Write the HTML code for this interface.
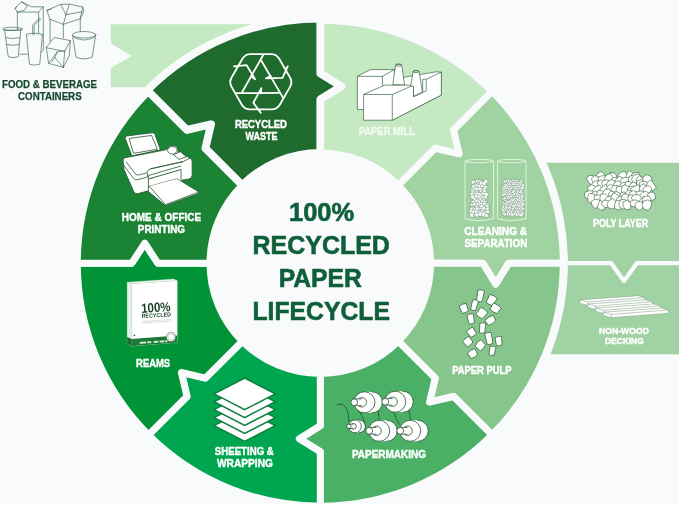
<!DOCTYPE html>
<html lang="en">
<head>
<meta charset="utf-8">
<title>100% Recycled Paper Lifecycle</title>
<style>
html,body{margin:0;padding:0;background:#f8fafb;}
body{width:679px;height:505px;overflow:hidden;}
svg{display:block;will-change:transform;}
</style>
</head>
<body>
<svg width="679" height="505" viewBox="0 0 679 505">
<rect width="679" height="505" fill="#f8fafb"/>
<path d="M111.7,24.2 L322,24.2 L322,87.2 L111.7,87.2 Q110.7,87.2 110.7,86.2 L110.7,70.5 Q110.9,67.5 114,66 L131.9,55.9 L114,45.5 Q110.9,44 110.7,41 L110.7,25.2 Q110.7,24.2 111.7,24.2 Z" fill="#c4e9c3"/>
<rect x="540" y="162.8" width="140" height="191.5" fill="#a1d2a3"/>
<path d="M540,263.2 L611.2,263.2 L624,280.9 L636.8,263.2 L680,263.2" fill="none" stroke="#f8fafb" stroke-width="4.3" stroke-linejoin="round"/>
<circle cx="320.3" cy="263.2" r="247.6" fill="#f8fafb"/>
<path d="M320.30,152.90 L320.30,99.40 L341.30,86.40 L320.30,73.40 L320.30,20.20 A243.00,243.00 0 0 1 492.13,91.37 L453.59,129.91 L459.25,153.95 L435.20,148.30 L398.29,185.21 A110.30,110.30 0 0 0 320.30,152.90 Z" fill="#c4e9c3" stroke="#f8fafb" stroke-width="7.0" stroke-linejoin="round"/>
<path d="M398.29,185.21 L435.20,148.30 L459.25,153.95 L453.59,129.91 L492.13,91.37 A243.00,243.00 0 0 1 563.30,263.20 L508.80,263.20 L495.80,284.20 L482.80,263.20 L430.60,263.20 A110.30,110.30 0 0 0 398.29,185.21 Z" fill="#a1d2a2" stroke="#f8fafb" stroke-width="7.0" stroke-linejoin="round"/>
<path d="M430.60,263.20 L482.80,263.20 L495.80,284.20 L508.80,263.20 L563.30,263.20 A243.00,243.00 0 0 1 492.13,435.03 L453.59,396.49 L429.55,402.15 L435.20,378.10 L398.29,341.19 A110.30,110.30 0 0 0 430.60,263.20 Z" fill="#86c68c" stroke="#f8fafb" stroke-width="7.0" stroke-linejoin="round"/>
<path d="M398.29,341.19 L435.20,378.10 L429.55,402.15 L453.59,396.49 L492.13,435.03 A243.00,243.00 0 0 1 320.30,506.20 L320.30,451.70 L299.30,438.70 L320.30,425.70 L320.30,373.50 A110.30,110.30 0 0 0 398.29,341.19 Z" fill="#4ab065" stroke="#f8fafb" stroke-width="7.0" stroke-linejoin="round"/>
<path d="M320.30,373.50 L320.30,425.70 L299.30,438.70 L320.30,451.70 L320.30,506.20 A243.00,243.00 0 0 1 148.47,435.03 L187.01,396.49 L181.35,372.45 L205.40,378.10 L242.31,341.19 A110.30,110.30 0 0 0 320.30,373.50 Z" fill="#00a550" stroke="#f8fafb" stroke-width="7.0" stroke-linejoin="round"/>
<path d="M242.31,341.19 L205.40,378.10 L181.35,372.45 L187.01,396.49 L148.47,435.03 A243.00,243.00 0 0 1 77.30,263.20 L131.80,263.20 L144.80,243.20 L157.80,263.20 L210.00,263.20 A110.30,110.30 0 0 0 242.31,341.19 Z" fill="#009437" stroke="#f8fafb" stroke-width="7.0" stroke-linejoin="round"/>
<path d="M210.00,263.20 L157.80,263.20 L144.80,243.20 L131.80,263.20 L77.30,263.20 A243.00,243.00 0 0 1 148.47,91.37 L187.01,129.91 L211.05,124.25 L205.40,148.30 L242.31,185.21 A110.30,110.30 0 0 0 210.00,263.20 Z" fill="#1a8334" stroke="#f8fafb" stroke-width="7.0" stroke-linejoin="round"/>
<path d="M242.31,185.21 L205.40,148.30 L211.05,124.25 L187.01,129.91 L147.27,90.17 A244.70,244.70 0 0 1 320.30,18.50 L320.30,73.40 L341.30,86.40 L320.30,99.40 L320.30,152.90 A110.30,110.30 0 0 0 242.31,185.21 Z" fill="#1f6b2e" stroke="#f8fafb" stroke-width="7.8" stroke-linejoin="round"/>
<g transform="translate(260.8,81.9) scale(0.1426)" fill="none" stroke="#fff" stroke-width="12.5" stroke-linejoin="round" stroke-linecap="round"><path d="M-129.0,-162.1 Q-110.0,-195.0 -72.0,-195.0 L72.0,-195.0 Q110.0,-195.0 129.0,-162.1 L204.9,-30.7 Q223.9,2.2 204.9,35.1 L132.9,159.9 Q113.9,192.8 75.9,192.8 L-75.9,192.8 Q-113.9,192.8 -132.9,159.9 L-204.9,35.1 Q-223.9,2.2 -204.9,-30.7 Z"/><polyline points="3.0,-150.0 155.5,110.6"/><polyline points="180.0,-95.0 189.0,-109.0 152.5,-28.0 36.0,-25.0 69.0,-41.0"/><polyline points="128.4,77.6 -173.5,79.4"/><polyline points="-7.7,203.4 -0.1,218.2 -52.0,146.1 3.7,43.7 1.0,80.3"/><polyline points="-131.4,72.4 18.0,-190.0"/><polyline points="-172.3,-108.4 -188.9,-109.2 -100.5,-118.1 -39.7,-18.7 -70.0,-39.3"/></g>
<g transform="translate(118,128) scale(0.15837)" fill="#fff" stroke="#24552f" stroke-width="5" stroke-linejoin="round"><path d="M188,372 L188,398 L300,490 L512,412 L512,405 L372,318 Z"/><path d="M196,366 L370,318 L510,404 L300,484 Z"/><path d="M190,325 L400,262 L404,338 L372,318 L192,368 Z" stroke="none"/><path d="M398,268 L398,330 L420,326 L420,262 Z" fill="#1a8334" stroke="none"/><path d="M32,205 Q30,192 45,188 L300,138 L318,128 Q330,108 352,110 L372,118 L380,150 L455,190 Q468,198 468,212 L468,300 Q466,318 448,322 L398,330 L398,262 L192,322 L192,396 L128,414 Q108,418 100,402 L38,262 Z"/><path d="M50,212 L110,290 Q120,300 135,296 L180,284 Q186,262 205,258 L412,212" fill="none"/><path d="M36,235 L98,318 Q108,330 125,326 L186,310 L186,284" fill="none"/><path d="M192,322 L192,300 L398,240" fill="none"/><path d="M205,258 L412,212 L455,190" fill="none"/><path d="M312,140 Q318,118 340,116 L365,122 Q378,130 372,150 L352,165 Q330,168 318,155 Z"/><path d="M350,168 L395,150 L432,182 L385,198 Z"/><path d="M58,50 L215,30 Q228,28 233,40 L268,138 L88,176 L46,68 Q42,53 58,50 Z"/><path d="M70,66 L212,47 L248,134 L98,160 Z" fill="none"/></g>
<g transform="translate(352,58) scale(0.14138)" fill="#fff" stroke="#24552f" stroke-width="4.5" stroke-linejoin="round"><path d="M38,130 L130,82 L300,82 L300,200 L215,245 L80,365 L38,365 Z"/><path d="M38,130 L215,130 L300,82 M215,130 L215,215" fill="none"/><path d="M372,135 L595,98 L632,100 L632,262 L285,440 L285,258 Z"/><path d="M288,190 L308,52 Q330,36 352,52 L372,190 Z"/><ellipse cx="330" cy="50" rx="22" ry="8" fill="none"/><path d="M82,258 L230,192 L435,192 L435,275 L500,245 L500,150 L525,150 L632,100 L632,262 L285,440 L82,440 Z"/><path d="M82,258 L285,258 L285,440 M285,258 L435,192" fill="none"/><path d="M525,150 L525,232 L500,245" fill="none"/><path d="M415,200 L432,97 Q453,82 475,97 L498,240 L435,270 L435,200 Z"/><ellipse cx="453" cy="96" rx="22" ry="8" fill="none"/></g>
<g transform="translate(458,152) scale(0.14643)"><path d="M48,62 L48,455 Q145.5,482 243,455 L243,62" fill="none" stroke="#e2f5df" stroke-width="6.5"/><ellipse cx="145.5" cy="62" rx="97.5" ry="11" fill="none" stroke="#e2f5df" stroke-width="6.5"/><path d="M270,62 L270,455 Q367.5,482 465,455 L465,62" fill="none" stroke="#e2f5df" stroke-width="6.5"/><ellipse cx="367.5" cy="62" rx="97.5" ry="11" fill="none" stroke="#e2f5df" stroke-width="6.5"/><g fill="#fff" stroke="#3f6f4a" stroke-width="2.6" stroke-linejoin="round"><polygon points="96.4,195.7 106.0,192.8 120.4,194.2 117.4,208.5 109.0,216.6 94.0,220.9 89.5,205.7"/><polygon points="121.3,193.2 132.7,186.3 146.1,194.2 143.8,209.3 133.8,219.9 119.0,216.4 117.6,203.1"/><polygon points="145.0,214.8 130.9,210.4 135.5,195.9 146.4,186.5 161.8,190.3 166.0,205.6 159.1,220.1"/><polygon points="146.7,212.7 148.8,196.1 163.4,194.0 173.6,197.1 178.0,207.3 175.6,222.6 160.2,220.3"/><polygon points="172.7,200.4 178.9,189.5 191.6,185.2 202.3,194.6 204.1,210.1 190.4,217.9 174.5,215.6"/><polygon points="133.0,215.9 136.3,230.1 124.4,237.2 110.4,241.1 103.5,227.5 109.5,215.8 120.4,213.3"/><polygon points="155.0,234.9 141.3,240.0 130.7,234.2 125.8,223.8 129.9,210.1 145.7,207.4 150.5,221.4"/><polygon points="154.3,202.0 169.3,201.3 177.0,216.3 166.6,228.3 152.2,235.2 144.5,221.6 146.6,210.4"/><polygon points="181.8,229.7 168.1,229.7 164.5,217.1 168.9,207.5 179.2,197.0 188.9,208.3 195.5,222.3"/><polygon points="121.2,233.2 119.6,246.5 109.2,256.3 97.6,248.8 92.8,238.0 95.4,222.7 111.2,223.9"/><polygon points="112.5,241.2 115.9,228.9 121.4,217.1 135.8,219.0 138.2,231.9 138.0,245.1 124.4,248.1"/><polygon points="143.0,219.3 154.5,227.1 159.5,235.8 159.1,249.2 144.3,255.7 136.0,242.7 133.8,230.4"/><polygon points="157.8,246.5 152.5,235.4 157.2,222.7 170.6,222.6 180.3,230.3 182.8,244.5 169.0,247.2"/><polygon points="181.9,252.4 169.2,245.5 175.7,232.6 185.8,227.3 197.7,230.0 203.8,242.8 192.7,250.6"/><polygon points="107.1,244.6 113.5,254.4 110.1,267.7 95.3,273.1 85.8,261.3 87.4,249.0 96.5,242.7"/><polygon points="122.7,234.7 128.5,248.1 127.7,259.6 118.0,270.3 104.2,263.8 98.2,249.7 108.9,239.9"/><polygon points="136.0,240.0 145.4,247.6 145.4,260.2 134.9,267.8 122.5,264.2 113.0,252.2 124.9,242.9"/><polygon points="165.5,246.0 165.9,261.7 161.0,276.5 144.1,277.7 138.5,263.6 136.3,249.8 149.5,241.1"/><polygon points="174.2,269.2 165.6,260.9 167.1,250.1 174.3,239.4 186.4,244.8 196.0,255.8 184.7,264.6"/><polygon points="107.7,287.3 94.4,290.7 85.9,279.2 89.1,266.3 100.3,255.6 113.6,264.2 115.1,277.6"/><polygon points="105.6,278.8 113.1,266.4 124.6,263.3 136.7,267.3 141.1,281.7 128.1,288.1 114.4,291.9"/><polygon points="155.2,265.6 166.6,272.1 164.8,287.5 150.1,287.3 139.5,284.0 137.0,272.5 143.5,261.3"/><polygon points="167.1,261.3 175.4,266.6 176.6,277.0 168.7,284.1 158.4,282.0 145.5,273.5 152.7,258.4"/><polygon points="176.3,285.4 168.1,276.3 168.3,262.6 181.3,256.3 192.8,263.3 194.5,275.0 188.4,285.1"/><polygon points="109.4,294.9 100.6,303.1 87.2,301.2 80.1,287.8 89.7,277.0 103.2,271.2 113.6,282.4"/><polygon points="97.9,289.2 105.7,277.3 118.7,271.8 128.9,281.8 127.5,294.2 119.3,304.1 104.9,302.5"/><polygon points="114.8,297.8 114.0,281.1 128.2,275.2 143.3,274.1 149.9,288.9 140.3,299.7 128.6,304.2"/><polygon points="142.2,277.0 158.4,276.0 168.4,287.6 167.1,302.6 153.9,309.2 143.6,301.6 136.0,291.2"/><polygon points="172.8,275.0 181.5,280.4 182.3,290.9 176.6,304.5 163.8,297.0 159.7,287.3 158.4,272.8"/><polygon points="183.6,277.0 200.1,275.5 208.0,289.3 206.8,304.3 192.6,305.0 178.6,305.1 176.8,290.5"/><polygon points="84.6,298.4 98.0,292.8 109.1,295.3 115.0,305.0 112.6,318.1 98.5,323.2 88.7,312.6"/><polygon points="115.9,318.4 112.8,306.9 114.4,294.6 128.2,286.9 137.7,299.3 141.0,313.4 128.0,318.5"/><polygon points="140.6,296.0 154.2,295.8 164.2,305.7 163.2,321.4 148.3,322.5 138.7,317.8 130.5,306.6"/><polygon points="153.8,313.7 159.1,301.0 168.3,294.1 179.1,298.2 186.5,309.0 177.9,319.2 166.1,320.2"/><polygon points="183.0,328.6 174.2,317.5 171.6,302.8 185.3,295.8 197.0,301.9 201.0,312.8 194.4,321.3"/><polygon points="126.6,343.2 110.7,342.6 99.3,334.6 100.4,320.8 110.2,309.4 125.8,313.2 130.3,327.6"/><polygon points="144.9,315.4 153.5,326.9 148.2,342.3 132.5,342.0 123.9,332.8 123.8,321.3 131.8,310.0"/><polygon points="165.8,318.8 170.6,329.1 166.4,339.7 155.2,342.0 142.3,337.3 140.7,321.6 153.1,310.9"/><polygon points="167.8,342.2 156.6,333.2 163.8,321.5 172.9,316.5 187.4,316.2 187.1,330.8 180.4,341.0"/><polygon points="117.2,339.0 116.2,352.3 103.8,355.3 93.0,352.2 86.3,340.2 97.2,332.4 110.3,325.5"/><polygon points="143.6,332.9 145.7,347.2 132.7,355.8 120.7,348.3 113.0,336.9 120.6,324.1 135.5,320.7"/><polygon points="160.3,340.6 156.3,354.4 143.9,356.9 131.7,354.7 129.6,341.9 135.7,329.1 150.8,329.1"/><polygon points="156.4,325.8 169.7,326.6 183.9,331.0 181.8,346.6 169.2,351.0 154.3,354.0 154.2,338.8"/><polygon points="171.1,335.2 183.3,327.5 195.6,334.2 198.1,346.6 190.6,355.5 179.9,355.3 167.5,349.4"/><polygon points="97.0,372.7 82.5,368.5 87.4,354.5 93.0,343.5 105.4,346.8 116.2,355.9 108.7,368.2"/><polygon points="96.9,354.0 108.6,345.5 123.0,342.1 126.3,356.3 124.6,367.5 113.9,370.7 104.5,365.9"/><polygon points="143.9,373.7 131.8,375.0 121.4,365.1 124.9,349.9 139.5,344.1 152.0,352.1 150.8,365.1"/><polygon points="139.0,353.8 148.7,345.2 160.2,344.2 172.4,351.6 164.3,363.2 155.9,374.8 140.7,369.2"/><polygon points="165.0,353.2 174.8,342.6 190.9,341.6 197.6,356.4 190.4,368.1 178.5,377.1 167.5,366.8"/><polygon points="215.0,362.1 207.4,375.3 193.3,377.0 182.7,368.5 183.4,355.0 194.3,349.2 207.1,349.6"/><polygon points="116.3,373.8 124.4,385.5 114.0,396.6 101.7,392.1 92.7,384.9 96.2,373.4 106.6,369.7"/><polygon points="118.0,398.2 109.5,385.0 116.8,373.5 126.6,362.5 139.4,371.1 145.2,385.8 133.8,397.1"/><polygon points="155.1,357.2 166.2,369.5 161.0,383.7 150.1,393.2 137.3,386.2 136.3,373.9 142.4,365.5"/><polygon points="170.1,387.2 156.0,390.4 146.7,379.3 149.2,366.1 159.9,357.2 171.6,364.2 177.0,375.7"/><polygon points="196.7,393.3 180.8,391.7 174.5,379.1 177.4,366.9 188.8,360.2 201.6,365.9 201.4,379.1"/><polygon points="203.6,361.9 214.6,367.2 212.8,379.5 204.2,386.7 193.3,384.2 186.3,374.4 192.9,364.3"/><polygon points="98.9,404.0 86.9,401.4 80.4,393.8 78.8,381.9 90.3,375.7 104.1,378.8 102.8,392.3"/><polygon points="134.5,396.6 121.4,404.8 110.4,404.5 100.3,397.6 104.7,386.1 114.1,376.7 125.6,383.9"/><polygon points="130.3,376.4 144.7,376.7 147.5,391.2 143.1,406.0 128.1,403.1 119.7,394.7 120.6,383.1"/><polygon points="152.4,405.7 142.0,397.0 145.7,381.3 161.5,379.5 168.9,390.0 169.8,399.8 162.7,407.1"/><polygon points="188.7,395.4 179.0,407.8 165.8,400.7 153.1,391.9 161.8,378.9 174.8,371.6 189.0,379.5"/><polygon points="194.8,405.3 181.9,396.1 190.3,383.3 198.9,376.0 213.7,376.6 212.5,391.2 208.1,402.2"/><polygon points="89.1,390.9 104.0,396.0 106.2,411.1 99.8,425.4 84.9,421.9 76.1,412.8 79.4,401.0"/><polygon points="107.3,424.2 93.9,420.8 93.2,406.0 103.2,395.1 116.7,399.3 124.2,410.0 117.6,420.6"/><polygon points="110.6,410.7 114.9,396.1 128.3,395.0 138.6,398.9 146.2,411.4 135.2,422.3 119.6,424.0"/><polygon points="163.8,400.6 163.4,414.8 155.7,424.5 144.3,421.8 135.3,414.2 134.7,398.7 150.0,399.2"/><polygon points="181.5,416.1 168.9,421.0 158.9,416.5 154.2,407.2 157.0,394.1 171.3,392.2 177.1,403.6"/><polygon points="186.3,432.3 173.6,427.8 165.2,415.8 173.5,403.2 188.0,398.9 197.9,410.1 194.7,422.5"/><polygon points="208.3,396.7 214.0,405.3 217.9,420.2 202.5,420.5 187.6,419.1 191.2,404.7 196.5,393.7"/><polygon points="80.6,421.3 94.1,414.6 108.6,421.5 106.9,436.4 99.6,447.7 86.0,445.8 81.2,434.6"/><polygon points="124.5,418.2 134.7,425.9 131.7,439.1 120.1,447.7 110.4,438.0 105.3,427.6 112.0,416.5"/><polygon points="130.3,414.9 143.9,418.0 148.1,431.9 138.5,440.9 126.8,443.1 112.8,436.0 119.9,422.0"/><polygon points="157.9,437.4 142.9,439.9 137.7,424.7 143.9,410.0 160.2,405.8 170.4,418.2 172.6,433.8"/><polygon points="194.5,422.2 192.8,438.9 178.0,443.8 163.5,441.0 161.7,426.6 165.9,411.4 182.9,410.2"/><polygon points="198.7,444.6 185.7,449.1 180.4,436.1 182.0,423.3 194.5,416.7 203.2,426.7 211.1,438.1"/></g><g fill="#fff" stroke="#3f6f4a" stroke-width="2.3" stroke-linejoin="round"><polygon points="318.8,187.0 326.1,195.6 331.1,203.2 327.0,214.2 315.0,213.2 306.0,205.5 312.3,196.2"/><polygon points="321.0,192.7 329.5,188.2 337.5,187.4 342.8,194.2 343.6,205.6 332.1,209.5 325.1,201.6"/><polygon points="344.0,189.0 351.3,186.8 362.4,187.1 360.2,198.0 354.5,204.3 343.5,208.2 336.8,197.5"/><polygon points="349.9,198.5 358.3,192.7 369.0,188.5 375.1,199.0 373.7,211.0 362.1,215.9 354.1,207.9"/><polygon points="383.8,202.4 375.9,205.5 367.2,200.6 370.9,191.6 375.8,182.8 385.2,187.2 388.9,195.6"/><polygon points="392.8,208.5 384.9,201.2 390.4,192.6 396.9,183.0 404.0,192.3 410.6,200.3 404.0,210.2"/><polygon points="398.6,209.3 398.3,199.8 401.7,193.1 409.4,191.0 420.3,194.6 415.3,204.9 409.0,213.4"/><polygon points="423.3,210.3 417.5,202.4 420.1,191.6 430.6,192.4 440.8,194.7 442.1,206.3 433.6,214.8"/><polygon points="318.4,227.0 314.2,216.0 318.7,207.3 327.3,204.3 334.2,209.7 334.5,217.7 329.2,223.6"/><polygon points="346.8,222.7 337.2,229.4 330.9,219.2 332.9,209.4 341.1,205.4 351.0,206.7 356.0,216.9"/><polygon points="369.5,215.8 358.6,219.0 349.6,220.7 342.0,212.3 349.4,204.2 357.6,197.8 368.4,203.2"/><polygon points="381.6,220.7 372.8,223.1 361.9,222.5 362.7,211.5 367.8,203.5 379.2,200.2 386.4,210.5"/><polygon points="377.8,212.1 383.1,202.7 392.5,200.9 400.5,205.6 399.7,214.5 394.2,221.5 382.5,223.5"/><polygon points="395.7,212.5 400.7,205.5 408.5,202.5 418.5,206.5 419.1,218.5 408.8,223.0 397.9,223.1"/><polygon points="413.5,201.5 424.1,202.9 432.8,208.9 429.0,218.6 421.5,224.5 410.7,222.3 407.5,211.3"/><polygon points="424.9,205.1 434.4,206.8 443.2,210.2 441.0,219.7 434.5,227.6 424.7,223.6 418.4,214.4"/><polygon points="311.1,238.8 305.2,228.2 310.8,217.8 322.0,212.9 332.3,220.5 330.2,232.1 322.5,239.0"/><polygon points="341.1,223.1 341.8,233.8 332.7,240.5 321.6,237.5 320.9,227.1 322.5,216.6 333.8,215.8"/><polygon points="340.1,214.9 351.1,211.8 360.9,217.2 357.9,227.1 353.0,233.3 343.9,234.0 337.2,225.9"/><polygon points="355.9,220.1 363.5,215.0 370.4,221.4 370.0,229.6 364.6,235.3 355.9,235.1 352.3,227.2"/><polygon points="366.5,223.7 367.4,213.6 377.2,209.1 384.9,215.2 391.1,224.6 380.7,229.0 372.3,231.3"/><polygon points="403.7,233.5 392.7,235.1 386.3,229.3 381.3,220.9 389.8,216.0 399.0,213.7 403.8,222.4"/><polygon points="415.8,218.4 424.5,225.2 421.2,236.2 411.4,239.4 403.9,234.5 399.0,226.0 405.6,217.7"/><polygon points="421.2,221.9 429.6,214.3 436.2,223.4 438.4,230.7 434.7,239.6 424.1,239.8 420.4,230.6"/><polygon points="434.5,235.9 432.7,226.9 437.0,219.2 447.5,214.0 452.8,224.4 455.0,235.9 444.1,242.3"/><polygon points="322.1,235.2 318.5,244.4 309.4,247.0 298.0,244.7 299.5,232.9 307.0,226.9 316.5,226.8"/><polygon points="312.6,243.0 310.7,232.4 320.5,225.7 328.2,233.3 334.2,240.5 327.9,247.9 317.8,253.2"/><polygon points="341.9,245.8 330.3,244.4 333.2,233.1 338.8,224.8 349.1,226.7 355.5,235.0 351.7,245.2"/><polygon points="358.8,225.1 367.9,228.7 368.3,238.5 362.0,245.1 352.3,245.9 346.8,237.3 350.1,228.3"/><polygon points="383.5,241.4 378.6,249.5 367.3,252.1 359.7,242.3 364.3,231.6 373.7,230.7 384.3,230.8"/><polygon points="383.4,226.9 393.5,229.7 401.1,238.5 393.9,247.3 384.7,249.8 374.3,245.6 377.8,235.2"/><polygon points="413.9,246.6 404.5,253.6 394.5,250.0 390.9,241.4 392.4,230.7 403.9,226.9 409.4,236.7"/><polygon points="407.5,239.0 412.1,231.6 420.6,226.8 430.4,232.7 426.1,242.5 420.4,248.5 409.6,249.8"/><polygon points="449.0,241.8 443.3,252.7 430.4,253.6 423.5,243.4 428.9,234.7 435.1,225.8 443.3,233.1"/><polygon points="299.8,263.1 295.0,252.8 292.7,243.3 301.6,238.2 309.9,242.0 316.1,249.6 308.8,256.1"/><polygon points="322.4,254.8 317.1,262.9 306.1,261.4 300.3,251.0 308.7,243.7 317.0,240.0 323.9,246.5"/><polygon points="343.8,247.7 341.4,256.1 335.9,264.7 327.5,258.8 321.2,251.1 327.0,242.3 337.8,238.0"/><polygon points="347.9,264.9 340.6,258.5 336.2,248.8 344.7,241.8 353.6,244.9 358.8,251.5 356.8,260.3"/><polygon points="362.9,237.1 371.4,242.4 378.6,249.3 371.5,256.4 363.9,258.5 354.8,254.9 356.8,245.2"/><polygon points="376.4,264.0 374.0,253.6 372.2,243.5 382.5,243.0 389.8,246.0 396.7,255.2 387.9,263.5"/><polygon points="405.4,246.7 403.2,258.1 392.4,258.3 382.7,256.3 382.5,246.1 389.0,239.8 397.9,239.7"/><polygon points="404.4,256.9 397.7,248.3 405.4,239.6 416.8,238.2 422.2,247.8 422.7,259.0 411.9,262.6"/><polygon points="426.0,241.5 433.4,246.4 435.2,253.9 431.5,261.0 423.5,260.5 413.0,256.6 417.2,245.9"/><polygon points="429.5,250.7 434.0,239.9 443.9,236.8 452.7,241.2 452.3,250.4 447.3,256.7 439.1,256.4"/><polygon points="315.6,258.1 318.8,266.0 314.0,273.4 305.4,273.4 299.0,267.6 300.5,259.0 307.8,253.0"/><polygon points="311.7,279.4 308.7,267.8 314.4,258.1 325.0,257.7 335.2,263.3 329.6,273.3 323.6,281.4"/><polygon points="337.9,257.4 345.9,259.8 347.7,267.6 344.6,275.1 336.4,275.3 328.8,270.6 326.4,259.1"/><polygon points="345.1,266.0 345.0,255.5 355.5,250.8 362.7,258.2 364.9,266.4 360.5,275.7 348.6,277.0"/><polygon points="381.2,263.6 379.4,270.8 372.0,278.4 363.8,271.2 364.6,262.4 368.4,253.7 380.2,251.9"/><polygon points="394.8,269.2 388.6,278.5 378.9,272.3 373.0,262.2 382.9,256.7 391.0,254.9 395.7,261.6"/><polygon points="401.6,273.1 393.6,268.2 393.5,259.8 398.5,254.1 408.8,248.9 411.4,260.2 410.9,269.6"/><polygon points="426.5,271.0 418.8,274.7 409.3,274.4 403.1,264.5 410.6,255.4 421.7,252.3 426.7,262.1"/><polygon points="417.9,266.8 422.5,257.8 431.7,253.3 441.4,259.0 443.5,270.9 433.2,275.7 423.7,275.2"/><polygon points="318.7,271.5 323.3,278.8 321.4,286.5 314.5,291.0 307.4,286.7 303.3,278.7 308.8,270.1"/><polygon points="328.3,267.2 336.4,267.4 341.3,274.6 338.5,283.4 329.8,284.5 321.4,281.2 321.2,271.8"/><polygon points="360.5,271.6 363.5,282.6 355.6,290.4 345.4,289.5 337.0,282.2 340.6,271.2 350.7,264.6"/><polygon points="364.3,294.1 356.5,286.3 357.0,277.4 362.8,272.1 370.8,272.4 375.8,279.3 374.9,289.5"/><polygon points="378.9,263.5 385.0,270.8 386.2,278.2 381.1,284.2 372.4,284.8 363.9,277.5 367.2,265.5"/><polygon points="386.1,281.5 386.3,272.2 394.0,268.6 403.5,267.2 409.7,276.8 404.1,287.1 393.9,285.6"/><polygon points="407.8,265.4 419.5,264.7 424.4,275.9 416.7,283.3 408.7,286.7 397.9,283.0 400.3,271.7"/><polygon points="427.1,264.0 435.5,272.1 439.5,283.3 429.6,290.1 420.7,286.2 411.8,280.1 417.6,270.6"/><polygon points="450.0,285.1 443.2,293.0 432.1,295.5 427.4,285.3 430.2,276.6 437.8,272.4 445.5,276.4"/><polygon points="310.3,281.3 318.6,284.6 320.0,293.6 316.6,304.7 304.1,303.8 296.6,294.3 300.5,283.5"/><polygon points="330.2,279.5 333.0,288.2 331.5,296.0 323.9,298.7 313.7,297.2 310.7,285.6 320.8,280.6"/><polygon points="337.3,278.2 348.8,279.9 356.5,288.3 351.4,298.0 342.8,299.5 333.7,298.1 331.2,288.0"/><polygon points="350.3,299.4 343.7,294.1 345.1,285.0 353.5,280.0 363.8,283.1 364.6,293.7 360.6,304.8"/><polygon points="369.7,283.7 380.3,285.4 387.7,293.8 382.0,303.1 373.1,308.0 363.5,302.8 362.9,292.0"/><polygon points="394.8,294.7 387.1,301.3 376.2,298.7 372.5,287.8 379.9,280.4 390.2,275.3 395.2,285.6"/><polygon points="404.7,276.3 416.1,280.1 418.3,292.5 409.8,300.8 398.1,301.5 391.4,291.8 394.9,281.1"/><polygon points="423.9,286.4 430.4,296.1 421.0,303.4 411.0,302.3 407.8,294.3 407.5,285.5 416.2,283.0"/><polygon points="445.4,288.8 445.3,299.0 438.0,304.1 428.1,306.5 423.0,296.9 425.6,286.3 436.1,284.7"/><polygon points="324.7,319.9 313.5,321.5 309.0,311.8 311.2,304.0 317.6,296.9 328.7,299.6 332.5,311.1"/><polygon points="324.2,310.6 321.7,299.3 332.2,295.2 341.0,297.1 347.2,305.0 344.2,316.6 332.8,314.7"/><polygon points="333.4,298.2 342.2,293.7 350.4,295.0 357.2,302.2 353.3,312.3 342.7,315.7 333.3,309.3"/><polygon points="368.0,293.1 371.0,304.3 370.8,315.3 359.6,318.4 348.6,313.9 351.1,302.8 355.9,293.6"/><polygon points="389.9,311.4 382.5,315.1 375.3,311.6 372.9,304.0 376.3,294.7 385.8,297.4 395.1,302.2"/><polygon points="401.1,296.0 410.5,303.5 409.3,316.1 398.3,320.8 386.4,318.8 387.8,307.3 392.0,300.7"/><polygon points="399.1,311.7 394.3,302.2 400.0,292.4 410.0,295.1 417.5,299.9 417.3,309.9 408.4,314.4"/><polygon points="414.0,315.8 411.4,305.4 415.1,294.2 427.8,292.8 431.4,303.7 434.4,313.7 424.6,319.7"/><polygon points="429.3,304.3 430.3,293.7 441.2,288.5 449.0,296.9 449.7,306.1 444.0,313.9 433.2,314.1"/><polygon points="309.0,330.1 299.0,325.2 301.7,314.2 310.6,311.3 319.5,311.7 321.9,320.6 319.3,330.4"/><polygon points="331.5,324.1 323.0,332.5 313.1,325.7 311.1,315.9 314.7,304.9 325.3,309.2 332.2,314.5"/><polygon points="344.2,304.8 350.3,310.9 352.7,318.7 347.1,326.3 337.5,324.9 331.4,317.0 336.9,309.4"/><polygon points="343.3,327.1 346.4,318.5 352.7,312.9 364.2,312.4 367.0,324.2 360.6,332.8 351.4,331.4"/><polygon points="359.6,326.5 358.2,314.8 368.6,309.1 379.1,312.0 379.6,321.8 376.0,328.4 367.4,334.5"/><polygon points="393.2,309.4 397.3,320.1 398.1,331.9 386.3,335.7 375.2,330.9 377.5,320.0 381.0,309.9"/><polygon points="412.0,322.6 409.5,331.5 400.3,333.0 392.0,328.4 392.7,318.9 398.8,310.7 407.6,315.6"/><polygon points="425.4,323.9 418.7,333.0 406.6,330.0 406.0,318.9 410.5,312.3 419.0,305.6 429.1,312.8"/><polygon points="435.7,331.0 423.9,326.6 426.0,315.4 429.6,308.3 438.5,306.0 444.2,313.5 445.6,324.0"/><polygon points="328.9,339.3 322.5,347.0 313.5,342.1 310.4,333.2 315.1,324.6 325.3,322.9 335.1,329.6"/><polygon points="330.0,345.3 320.0,340.8 322.1,330.6 326.8,322.6 337.6,322.1 339.4,332.2 340.8,342.6"/><polygon points="337.4,324.2 348.0,324.1 357.2,325.8 356.3,335.0 352.4,342.8 343.1,342.4 339.5,334.6"/><polygon points="354.2,320.5 365.6,322.1 373.5,328.1 373.8,339.0 364.6,346.9 352.5,343.2 347.6,331.4"/><polygon points="386.1,326.5 388.1,335.4 380.7,343.2 370.4,339.4 367.0,330.1 369.1,318.8 380.5,320.2"/><polygon points="402.3,343.6 393.2,346.8 384.6,341.0 386.5,331.4 392.5,324.4 400.7,328.4 404.4,335.1"/><polygon points="419.2,328.0 417.2,336.6 409.0,343.7 398.7,338.2 399.4,327.7 403.5,317.5 414.9,318.9"/><polygon points="425.4,344.0 414.3,343.0 414.1,331.6 418.6,321.1 429.0,325.1 434.1,331.5 432.1,339.1"/><polygon points="452.0,333.9 451.3,344.6 440.1,344.5 430.3,338.7 435.8,329.1 441.4,321.2 449.5,326.5"/><polygon points="303.9,340.8 311.9,332.5 318.8,341.7 320.0,349.4 316.7,359.0 307.3,355.2 302.8,348.9"/><polygon points="335.2,339.2 333.6,349.4 330.5,358.8 319.0,360.1 316.0,349.6 314.4,339.2 324.9,337.4"/><polygon points="339.8,330.7 350.8,334.1 350.2,345.6 342.9,351.2 334.5,351.1 329.2,344.2 328.2,332.8"/><polygon points="348.6,350.3 342.8,343.5 345.9,333.6 356.4,330.7 362.5,338.8 362.5,346.9 356.9,354.4"/><polygon points="360.3,339.5 371.2,336.8 379.6,338.0 384.9,346.0 380.6,355.3 369.9,359.9 362.3,351.1"/><polygon points="391.4,332.1 397.8,341.1 396.8,349.6 390.9,355.5 381.9,354.2 374.2,345.9 382.1,337.9"/><polygon points="412.6,344.9 414.7,355.3 404.3,358.0 397.0,353.5 391.4,345.3 397.0,335.2 408.5,336.1"/><polygon points="405.4,358.4 401.8,347.8 409.9,341.1 419.0,339.7 424.9,347.1 422.1,355.2 415.3,358.8"/><polygon points="441.4,339.2 445.8,346.4 440.8,353.6 431.1,359.6 422.7,350.6 423.0,338.5 433.7,334.0"/><polygon points="327.2,365.6 317.9,372.8 306.5,367.3 306.8,355.6 314.1,350.0 323.9,346.1 326.9,356.2"/><polygon points="345.2,355.6 341.0,364.8 331.9,366.7 322.9,362.7 319.4,351.3 329.9,345.9 338.7,348.5"/><polygon points="339.4,371.6 334.3,360.8 343.4,353.9 353.7,350.3 360.0,359.6 356.3,368.3 349.2,371.8"/><polygon points="353.9,364.6 356.9,353.3 365.8,348.0 374.5,352.1 380.7,360.8 373.0,368.0 363.8,370.5"/><polygon points="388.0,367.9 379.3,373.4 369.9,367.0 373.1,357.1 377.4,346.2 386.9,353.1 391.0,360.1"/><polygon points="381.5,349.8 392.5,350.0 402.6,352.1 400.5,362.1 396.3,370.8 386.8,368.1 381.2,361.0"/><polygon points="416.7,370.9 406.0,372.1 396.7,368.3 395.1,357.6 403.0,350.6 414.4,349.4 421.4,359.7"/><polygon points="430.9,352.0 435.4,359.9 430.1,368.0 419.3,372.5 415.6,361.5 413.6,351.7 422.9,345.2"/><polygon points="453.1,352.3 455.3,363.2 445.0,368.6 435.5,364.0 429.4,354.7 436.2,345.2 446.6,345.8"/><polygon points="308.5,361.3 319.9,362.5 321.0,373.2 319.0,382.3 309.8,381.6 299.4,379.5 299.3,367.7"/><polygon points="316.6,367.2 323.8,361.5 332.0,361.0 342.3,366.4 338.9,378.5 327.9,379.7 317.1,378.5"/><polygon points="335.8,364.6 344.3,362.5 349.6,368.8 353.3,378.0 344.5,384.4 333.5,382.7 330.2,372.3"/><polygon points="354.7,361.0 364.6,363.2 369.0,373.5 361.6,381.5 351.3,383.9 347.4,374.6 347.3,366.3"/><polygon points="382.4,373.5 378.6,383.4 369.4,378.2 363.0,371.6 366.6,362.4 376.2,357.0 384.3,364.6"/><polygon points="391.2,356.7 399.0,364.8 399.6,376.4 389.5,381.9 378.7,379.4 373.4,368.8 380.2,359.4"/><polygon points="408.7,375.6 405.0,382.8 397.4,386.8 391.2,380.8 389.0,372.3 396.4,367.7 404.6,368.2"/><polygon points="410.3,385.3 404.1,376.6 406.2,367.9 412.4,358.2 424.3,362.4 427.3,373.9 419.8,381.0"/><polygon points="425.8,377.6 422.2,369.3 428.4,360.3 439.7,361.8 447.0,371.2 442.2,381.9 431.7,386.3"/><polygon points="297.4,375.4 308.9,372.7 316.6,381.7 313.9,392.1 305.4,395.7 296.9,393.7 294.3,385.1"/><polygon points="323.2,400.0 311.8,400.9 308.2,390.4 312.4,382.7 320.0,376.5 327.9,382.9 327.8,391.7"/><polygon points="338.0,392.0 329.0,391.8 323.6,386.3 320.7,377.3 328.6,368.5 340.4,372.4 341.9,383.4"/><polygon points="356.7,390.4 349.4,392.0 340.4,388.4 340.0,377.2 349.8,372.2 360.8,373.2 363.2,384.1"/><polygon points="358.0,385.5 362.4,377.5 372.2,377.5 380.7,384.6 375.0,393.9 367.2,398.0 356.4,396.2"/><polygon points="378.6,399.6 368.2,396.5 367.2,386.8 368.3,376.5 379.0,376.4 385.8,382.8 388.6,393.6"/><polygon points="393.1,377.0 402.2,374.6 405.9,383.3 407.1,393.1 397.3,399.8 387.4,393.2 388.7,383.4"/><polygon points="401.8,389.9 401.8,381.3 409.1,375.3 416.7,380.1 423.4,387.7 416.1,394.9 407.4,396.4"/><polygon points="432.2,380.9 430.9,389.3 425.1,395.7 413.6,396.6 413.8,385.1 416.3,376.8 425.1,375.8"/><polygon points="454.4,394.6 443.5,397.0 433.3,395.1 431.7,384.6 436.1,374.1 446.3,378.4 452.4,383.8"/><polygon points="313.2,387.9 318.5,396.1 317.3,405.8 308.1,412.4 298.6,406.0 297.0,395.9 302.6,387.0"/><polygon points="317.9,403.7 315.9,394.8 322.8,385.7 332.5,391.3 337.0,399.4 334.0,409.1 323.6,411.6"/><polygon points="337.3,391.2 344.7,393.5 351.5,401.5 345.8,412.1 335.2,408.2 329.8,402.7 327.7,393.1"/><polygon points="365.7,403.9 358.8,410.0 350.1,411.1 342.0,404.5 345.3,394.2 354.4,387.5 365.4,392.7"/><polygon points="377.8,413.3 368.2,412.5 360.5,405.9 365.5,397.3 372.6,388.7 381.1,396.1 385.9,405.9"/><polygon points="379.9,412.6 376.0,400.6 386.5,395.4 396.3,391.6 403.5,400.5 399.7,410.6 390.9,413.9"/><polygon points="410.3,395.0 409.2,404.1 402.8,411.8 393.0,408.3 387.8,399.4 393.3,390.6 402.7,389.6"/><polygon points="409.2,394.3 418.4,391.7 426.1,398.6 424.7,408.9 416.4,417.0 405.2,412.4 404.3,401.7"/><polygon points="440.1,413.5 429.5,409.3 421.4,404.9 423.9,395.6 431.3,389.3 438.7,395.0 442.3,402.3"/><polygon points="319.2,424.7 308.6,419.8 303.9,412.2 307.5,404.8 314.6,401.7 326.3,402.5 326.5,414.8"/><polygon points="338.3,406.5 344.7,412.0 345.5,420.6 338.4,424.9 330.5,424.0 323.1,416.6 328.8,407.4"/><polygon points="352.9,400.9 357.9,411.6 353.5,422.2 342.2,426.4 334.1,418.0 334.6,408.0 341.4,400.5"/><polygon points="361.6,421.6 354.8,415.4 353.7,407.6 358.5,400.9 367.6,400.7 376.8,407.8 370.9,418.0"/><polygon points="373.3,409.9 381.1,404.7 389.7,408.4 394.6,417.3 389.4,427.7 377.4,428.4 372.3,418.9"/><polygon points="383.7,405.0 391.1,401.6 399.4,402.4 402.2,410.7 397.7,418.0 388.4,422.1 380.8,414.4"/><polygon points="412.7,429.5 403.4,423.0 396.5,416.2 400.2,405.8 411.1,402.5 419.0,410.0 421.8,421.0"/><polygon points="435.5,419.8 429.0,426.5 419.1,424.3 418.0,414.8 419.2,404.5 429.9,404.9 437.6,410.7"/><polygon points="437.8,427.8 430.0,420.6 430.8,409.7 440.4,406.0 448.8,409.1 453.1,417.6 448.4,426.8"/><polygon points="299.5,428.4 302.7,419.3 309.8,415.4 321.1,414.1 319.4,425.3 317.1,434.3 307.5,434.2"/><polygon points="327.5,434.8 316.8,439.0 313.2,428.4 312.6,419.7 320.2,412.6 330.5,416.6 330.1,426.5"/><polygon points="347.6,418.6 348.5,427.9 343.6,436.0 333.5,435.9 329.5,427.5 328.7,417.5 338.8,412.4"/><polygon points="357.9,412.9 366.7,421.1 364.2,430.5 359.8,438.7 349.1,438.2 345.5,428.6 347.1,418.3"/><polygon points="361.0,419.7 371.3,413.7 381.3,420.4 383.3,431.6 375.9,440.1 366.0,436.9 358.5,430.4"/><polygon points="388.4,413.9 397.5,416.8 399.7,426.8 393.6,435.8 382.1,435.8 376.9,426.1 377.0,414.5"/><polygon points="412.8,427.2 411.0,437.5 399.8,442.3 394.5,432.1 389.8,422.6 398.8,415.6 409.2,418.0"/><polygon points="427.5,439.3 417.4,442.1 408.6,435.4 407.4,423.3 417.8,416.6 429.4,419.4 429.3,430.2"/><polygon points="445.8,426.0 442.2,436.0 434.8,443.8 424.8,438.9 420.4,429.1 426.4,419.8 437.8,417.1"/></g></g>
<g fill="#fff" stroke="#24552f" stroke-width="0.55" stroke-linejoin="round"><polygon points="602.6,179.9 598.4,180.0 595.4,176.6 598.0,173.2 600.9,171.4 603.6,173.4 606.0,177.0"/><polygon points="610.4,172.5 614.3,173.0 616.4,175.3 617.4,178.9 613.8,180.1 610.6,179.5 609.3,176.3"/><polygon points="617.9,175.7 620.5,172.3 624.7,171.4 627.3,174.8 626.4,178.5 623.6,182.2 618.7,180.5"/><polygon points="628.1,179.5 625.7,177.0 626.8,173.8 629.4,170.5 633.0,173.0 635.2,176.9 631.7,179.8"/><polygon points="639.5,176.3 639.2,180.8 634.5,180.8 630.2,178.8 631.6,174.3 634.8,172.8 638.7,172.4"/><polygon points="594.1,181.5 591.4,184.9 588.3,182.0 586.5,178.6 589.1,175.4 592.8,175.9 596.3,178.1"/><polygon points="600.2,183.6 596.6,184.5 593.5,182.9 591.2,178.9 594.8,175.5 598.9,176.9 602.5,179.6"/><polygon points="605.8,175.9 606.3,179.8 606.5,184.5 601.9,183.7 599.1,181.7 597.8,177.6 601.7,175.8"/><polygon points="612.7,181.6 609.0,183.0 605.0,182.5 604.2,178.5 606.1,175.1 610.5,173.4 612.9,177.5"/><polygon points="616.5,184.6 612.3,186.3 609.5,182.3 611.8,178.6 615.0,177.3 619.1,178.0 620.6,182.6"/><polygon points="623.1,178.1 623.9,182.1 621.3,184.6 618.2,184.6 613.8,183.1 616.2,179.2 619.1,176.2"/><polygon points="621.8,178.7 625.0,177.3 629.1,177.5 628.7,181.6 627.2,184.5 623.4,185.6 619.8,182.7"/><polygon points="635.2,177.6 635.0,180.8 633.0,183.4 629.3,183.3 628.3,179.8 629.2,176.7 632.5,175.3"/><polygon points="633.6,183.5 631.4,179.0 634.2,175.1 638.6,174.1 641.8,177.1 640.6,180.9 638.0,182.5"/><polygon points="639.5,175.7 643.2,178.5 646.4,180.9 644.5,184.7 640.6,186.6 637.7,183.5 635.7,179.2"/><polygon points="646.6,174.6 651.0,176.7 652.3,181.0 649.9,185.0 645.1,185.7 643.0,181.6 642.8,177.4"/><polygon points="593.0,182.2 596.7,180.4 600.3,182.6 599.5,186.4 597.8,190.0 592.9,190.3 590.5,185.9"/><polygon points="600.9,179.9 604.6,181.6 606.9,185.4 603.2,187.8 599.5,189.7 598.1,185.8 597.2,182.0"/><polygon points="604.7,179.9 608.9,180.1 612.0,183.7 609.1,187.2 605.8,187.7 602.7,186.5 601.4,182.5"/><polygon points="615.3,181.3 615.4,185.5 613.1,189.4 608.9,187.8 606.0,184.9 608.2,181.5 611.4,179.6"/><polygon points="621.5,183.2 623.2,186.9 620.5,189.8 617.0,189.7 613.9,187.6 613.7,183.1 617.9,180.6"/><polygon points="623.1,190.1 619.7,188.5 619.9,184.7 622.6,182.5 626.3,182.7 628.7,186.0 626.8,189.8"/><polygon points="632.7,185.5 630.7,188.5 627.8,189.4 623.4,189.0 624.9,184.9 626.4,181.1 630.8,181.9"/><polygon points="637.5,186.3 636.2,189.7 632.6,189.1 628.5,187.7 630.4,183.7 633.4,182.1 636.2,183.4"/><polygon points="636.8,181.2 641.0,179.5 645.3,181.9 645.1,186.7 641.4,188.6 637.7,188.7 636.4,185.2"/><polygon points="643.3,181.2 646.7,181.8 648.4,185.0 647.4,189.0 643.1,189.6 639.6,187.1 639.3,182.7"/><polygon points="653.8,183.9 656.4,187.6 652.7,190.8 648.9,189.1 646.3,186.5 647.2,182.4 651.3,180.1"/><polygon points="595.9,186.3 597.8,190.9 594.3,194.0 590.2,194.9 588.2,191.3 587.6,187.2 591.5,184.6"/><polygon points="599.6,196.1 594.6,195.2 592.4,190.6 595.3,186.8 599.5,185.2 602.1,188.7 603.5,193.0"/><polygon points="608.4,191.7 605.2,194.2 600.8,193.5 599.9,189.2 602.6,186.7 606.1,184.2 607.8,188.2"/><polygon points="607.2,193.7 606.2,189.5 607.2,186.4 610.3,184.3 614.3,186.1 615.3,190.7 611.8,193.8"/><polygon points="619.4,188.8 619.3,192.0 616.4,194.6 613.0,192.8 610.7,189.2 613.3,185.6 617.6,185.4"/><polygon points="619.6,194.1 615.9,191.7 616.6,186.8 621.0,186.2 625.4,186.3 627.1,191.0 623.6,194.2"/><polygon points="621.5,188.0 624.0,184.6 627.6,186.0 631.9,187.8 629.8,192.0 626.1,193.5 621.8,192.5"/><polygon points="630.4,186.6 634.1,185.8 636.1,189.2 636.0,193.9 631.2,195.7 628.3,192.2 627.3,188.5"/><polygon points="638.3,184.5 640.5,188.5 639.4,192.2 636.2,193.6 632.3,193.0 630.4,188.7 634.3,186.5"/><polygon points="644.8,192.3 640.8,193.0 639.3,189.1 640.4,185.6 644.0,183.6 646.5,186.6 648.5,190.3"/><polygon points="647.2,193.8 643.5,192.9 642.8,188.9 645.4,186.0 649.2,185.9 651.9,188.9 650.2,192.3"/><polygon points="592.8,190.9 595.5,194.6 592.5,197.9 588.9,200.1 585.0,197.5 584.6,192.6 588.8,190.8"/><polygon points="595.8,201.8 590.9,200.3 590.9,195.9 592.2,192.8 595.9,190.9 598.3,194.3 597.8,197.6"/><polygon points="602.5,191.0 605.7,192.7 606.2,196.9 602.3,197.9 599.1,197.6 596.5,194.4 598.1,190.0"/><polygon points="602.3,193.5 604.8,189.9 608.9,188.7 611.1,192.2 610.8,195.4 608.3,197.3 605.4,196.3"/><polygon points="608.6,193.3 611.1,191.1 614.4,191.7 617.6,194.7 615.9,199.4 610.9,200.5 608.8,196.5"/><polygon points="611.0,197.3 612.9,193.5 616.2,191.5 619.9,193.1 620.7,197.0 618.5,200.5 614.8,199.1"/><polygon points="625.6,199.9 621.3,200.5 619.3,196.7 620.7,193.3 623.7,192.0 627.4,192.9 627.0,196.6"/><polygon points="628.2,190.2 632.7,191.5 634.2,195.4 633.1,199.3 629.0,200.3 624.6,198.5 624.7,193.6"/><polygon points="633.4,190.5 637.8,192.3 638.0,196.8 636.3,201.0 631.4,201.1 628.6,197.3 629.3,192.7"/><polygon points="640.0,191.0 643.5,191.3 645.2,194.8 642.6,197.3 639.5,198.7 636.0,196.5 636.2,192.1"/><polygon points="642.6,192.4 646.6,191.3 649.4,194.6 648.7,198.7 645.1,200.4 640.4,200.1 639.7,195.3"/><polygon points="655.1,195.1 655.2,199.0 651.2,200.8 648.3,197.7 647.5,194.1 650.5,192.2 653.7,192.2"/><polygon points="591.9,204.3 588.2,201.5 587.4,197.5 589.4,193.2 594.1,194.2 597.8,197.2 595.9,201.7"/><polygon points="594.4,195.4 598.6,195.0 603.1,194.6 602.5,199.1 601.0,202.5 597.3,202.0 594.3,199.8"/><polygon points="608.0,196.9 607.9,200.9 604.4,203.3 600.8,201.5 599.7,198.0 601.1,194.1 605.4,193.8"/><polygon points="607.5,203.5 604.8,201.8 605.5,198.6 607.9,196.5 612.1,196.3 612.9,200.5 611.8,205.0"/><polygon points="621.2,198.0 617.8,201.0 614.5,204.1 611.5,200.6 611.1,196.7 613.7,192.7 617.7,195.1"/><polygon points="619.6,196.4 624.3,196.4 625.9,201.2 623.3,204.9 619.4,204.4 615.7,202.8 616.4,198.7"/><polygon points="621.4,197.8 622.9,194.4 627.1,193.7 629.5,197.2 628.4,200.8 625.3,203.3 621.7,201.4"/><polygon points="638.2,199.6 635.7,203.8 631.5,203.7 629.0,201.4 627.1,197.4 631.0,194.5 635.3,195.8"/><polygon points="634.8,194.6 639.0,194.7 641.7,198.1 640.8,202.5 636.6,202.9 633.5,201.4 631.0,197.5"/><polygon points="647.3,201.6 645.5,204.4 641.8,204.7 639.0,201.7 641.1,198.4 644.0,195.9 646.7,198.6"/><polygon points="642.4,198.6 645.6,196.1 649.5,196.2 651.0,199.6 650.2,203.1 646.7,205.5 642.5,203.2"/><polygon points="592.3,205.6 590.8,201.5 594.8,199.5 598.9,199.7 601.8,203.6 598.6,207.0 594.9,208.4"/><polygon points="597.5,207.6 598.1,204.2 600.1,200.2 603.6,202.9 605.0,205.7 604.4,209.5 600.4,210.2"/><polygon points="607.4,200.5 610.2,202.0 611.6,205.9 607.8,207.4 604.4,207.4 601.6,204.3 603.3,200.1"/><polygon points="608.0,207.6 607.0,203.5 609.0,200.7 612.5,198.4 615.7,201.4 616.5,206.1 612.6,209.2"/><polygon points="620.0,200.4 622.6,202.9 622.4,206.7 619.3,210.1 614.6,208.4 614.7,203.9 616.3,200.7"/><polygon points="619.3,206.8 619.0,203.2 620.7,199.7 625.2,199.3 627.4,203.2 627.0,207.7 622.6,209.0"/><polygon points="630.8,202.5 631.2,205.8 630.2,209.3 626.1,209.7 623.2,206.7 622.9,201.9 627.4,200.2"/><polygon points="629.9,201.7 633.8,200.0 636.9,200.2 640.4,202.5 639.4,207.2 634.9,206.9 631.0,206.2"/><polygon points="636.5,202.0 639.9,201.4 643.8,203.1 643.1,207.4 639.9,210.5 636.0,208.6 634.7,205.1"/><polygon points="642.0,205.2 643.4,201.0 647.8,199.9 651.9,202.3 650.9,206.8 648.3,210.4 643.8,209.1"/></g>
<g transform="translate(440,280) scale(0.21768)" fill="#fff" stroke="#24552f" stroke-width="3" stroke-linejoin="round"><path transform="translate(185,72) rotate(10)" d="M-15.0,-23.84 Q0,-29.84 15.0,-24.84 L13.0,24.84 Q0,30.84 -13.0,26.84 Z"/><path transform="translate(237,92) rotate(30)" d="M-18.75,-18.96 Q0,-24.96 18.75,-19.96 L16.75,19.96 Q0,25.96 -16.75,21.96 Z"/><path transform="translate(110,130) rotate(-20)" d="M-17.5,-16.52 Q0,-22.52 17.5,-17.52 L15.5,17.52 Q0,23.52 -15.5,19.52 Z"/><path transform="translate(158,115) rotate(15)" d="M-13.75,-21.4 Q0,-27.4 13.75,-22.4 L11.75,22.4 Q0,28.4 -11.75,24.4 Z"/><path transform="translate(255,130) rotate(35)" d="M-21.25,-15.3 Q0,-21.3 21.25,-16.3 L19.25,16.3 Q0,22.3 -19.25,18.3 Z"/><path transform="translate(192,152) rotate(40)" d="M-20.0,-17.74 Q0,-23.74 20.0,-18.74 L18.0,18.74 Q0,24.74 -18.0,20.74 Z"/><path transform="translate(142,178) rotate(-10)" d="M-15.0,-18.96 Q0,-24.96 15.0,-19.96 L13.0,19.96 Q0,25.96 -13.0,21.96 Z"/><path transform="translate(232,185) rotate(-30)" d="M-22.5,-12.86 Q0,-18.86 22.5,-13.86 L20.5,13.86 Q0,19.86 -20.5,15.86 Z"/><path transform="translate(195,220) rotate(5)" d="M-13.75,-20.18 Q0,-26.18 13.75,-21.18 L11.75,21.18 Q0,27.18 -11.75,23.18 Z"/><path transform="translate(145,240) rotate(-35)" d="M-17.5,-15.3 Q0,-21.3 17.5,-16.3 L15.5,16.3 Q0,22.3 -15.5,18.3 Z"/><path transform="translate(225,268) rotate(-12)" d="M-15.0,-23.84 Q0,-29.84 15.0,-24.84 L13.0,24.84 Q0,30.84 -13.0,26.84 Z"/><path transform="translate(128,283) rotate(-40)" d="M-18.75,-15.3 Q0,-21.3 18.75,-16.3 L16.75,16.3 Q0,22.3 -16.75,18.3 Z"/><path transform="translate(270,280) rotate(-8)" d="M-15.0,-17.74 Q0,-23.74 15.0,-18.74 L13.0,18.74 Q0,24.74 -13.0,20.74 Z"/><path transform="translate(185,300) rotate(-45)" d="M-20.0,-15.3 Q0,-21.3 20.0,-16.3 L18.0,16.3 Q0,22.3 -18.0,18.3 Z"/><path transform="translate(240,325) rotate(12)" d="M-13.75,-17.74 Q0,-23.74 13.75,-18.74 L11.75,18.74 Q0,24.74 -11.75,20.74 Z"/><path transform="translate(150,338) rotate(-30)" d="M-20.0,-14.079999999999998 Q0,-20.08 20.0,-15.079999999999998 L18.0,15.079999999999998 Q0,21.08 -18.0,17.08 Z"/></g>
<g transform="translate(335,380) scale(0.17825)" fill="#fff" stroke="#1f4529" stroke-width="4.2" stroke-linejoin="round"><path d="M10,140 Q45,125 65,160 Q80,200 78,235 M125,165 Q160,200 170,260 M235,130 Q245,180 248,228 M400,110 Q415,170 425,228 M330,180 Q340,215 360,250" fill="none"/><circle cx="207" cy="125" r="59"/><path d="M165,66 L207,66 L207,184 L165,184 Z" stroke="none"/><circle cx="165" cy="125" r="59"/><circle cx="150.25" cy="125" r="26.55"/><rect x="108" y="106" width="42.25" height="38" stroke="none"/><path d="M108,106 L150.25,106 M108,144 L150.25,144" fill="none"/><circle cx="108" cy="125" r="19"/><circle cx="380" cy="122" r="59"/><path d="M338,63 L380,63 L380,181 L338,181 Z" stroke="none"/><circle cx="338" cy="122" r="59"/><circle cx="323.25" cy="122" r="26.55"/><rect x="282" y="103" width="41.25" height="38" stroke="none"/><path d="M282,103 L323.25,103 M282,141 L323.25,141" fill="none"/><circle cx="282" cy="122" r="19"/><circle cx="134" cy="260" r="36"/><path d="M112,224 L134,224 L134,296 L112,296 Z" stroke="none"/><circle cx="112" cy="260" r="36"/><circle cx="103.0" cy="260" r="16.2"/><rect x="78" y="248" width="25.0" height="24" stroke="none"/><path d="M78,248 L103.0,248 M78,272 L103.0,272" fill="none"/><circle cx="78" cy="260" r="12"/><circle cx="290" cy="285" r="59"/><path d="M248,226 L290,226 L290,344 L248,344 Z" stroke="none"/><circle cx="248" cy="285" r="59"/><circle cx="233.25" cy="285" r="26.55"/><rect x="192" y="266" width="41.25" height="38" stroke="none"/><path d="M192,266 L233.25,266 M192,304 L233.25,304" fill="none"/><circle cx="192" cy="285" r="19"/><circle cx="464" cy="285" r="59"/><path d="M422,226 L464,226 L464,344 L422,344 Z" stroke="none"/><circle cx="422" cy="285" r="59"/><circle cx="407.25" cy="285" r="26.55"/><rect x="366" y="266" width="41.25" height="38" stroke="none"/><path d="M366,266 L407.25,266 M366,304 L407.25,304" fill="none"/><circle cx="366" cy="285" r="19"/></g>
<g fill="#fff" stroke="#0b7f3d" stroke-width="1.5" stroke-linejoin="miter"><path d="M214.1,425.6 L244.7,409.8 L275.3,425.6 L244.7,441.40000000000003 Z"/><path d="M214.1,417.65000000000003 L244.7,401.85 L275.3,417.65000000000003 L244.7,433.45000000000005 Z"/><path d="M214.1,409.7 L244.7,393.9 L275.3,409.7 L244.7,425.5 Z"/><path d="M214.1,401.75 L244.7,385.95 L275.3,401.75 L244.7,417.55 Z"/><path d="M214.1,393.8 L244.7,378.0 L275.3,393.8 L244.7,409.6 Z"/></g>
<g transform="translate(120,274) scale(0.15828)"><path d="M45,52 L340,32 L362,42 L72,62 Z" fill="#f4f7f4" stroke="#c9d6cb" stroke-width="2"/><path d="M45,52 L72,62 L72,456 L45,441 Z" fill="#e9efe9" stroke="#c9d6cb" stroke-width="2"/><path d="M72,62 L362,42 L362,432 L72,456 Z" fill="#ffffff" stroke="#d5e0d6" stroke-width="2"/><path d="M72,410 L362,388 L362,432 L72,456 Z" fill="#1c7a36"/><path d="M45,398 L72,410 L72,456 L45,441 Z" fill="#17692e"/><g transform="rotate(-3.6 228 240)" font-family="'Liberation Sans', Arial, sans-serif" font-weight="bold" fill="#173f25" text-anchor="middle"><text x="228" y="240" font-size="84" textLength="186" lengthAdjust="spacingAndGlyphs">100%</text><text x="228" y="273" font-size="37" textLength="186" lengthAdjust="spacingAndGlyphs">RECYCLED</text><path d="M136,294 L320,294 M136,304 L320,304" stroke="#9fb3a3" stroke-width="2.5" fill="none"/><path d="M112,422 h40 v12 h-40z M160,422 h26 v12 h-26z M200,422 h30 v12 h-30z M238,422 h30 v12 h-30z M274,422 h14 v12 h-14z" fill="#d9eedd"/></g><circle cx="322" cy="398" r="30" fill="#fff" stroke="#2f5a3a" stroke-width="3.5"/><circle cx="322" cy="398" r="21" fill="none" stroke="#2f5a3a" stroke-width="2"/><path d="M84,392 L98,392 L91,381 Z" fill="#2f5a3a"/></g>
<g transform="translate(572,286) scale(0.15758)" fill="#fff" stroke="#7fa486" stroke-width="3.4" stroke-linejoin="round"><path d="M50,88 L420,62 L462,74 L462,95 L100,123 L50,109 Z"/><path d="M50,88 L100,102 L462,74 M100,102 L100,123" fill="none"/><path d="M100,114 L470,88 L512,100 L512,121 L150,149 L100,135 Z"/><path d="M100,114 L150,128 L512,100 M150,128 L150,149" fill="none"/><path d="M150,140 L520,114 L562,126 L562,147 L200,175 L150,161 Z"/><path d="M150,140 L200,154 L562,126 M200,154 L200,175" fill="none"/><path d="M200,166 L570,140 L612,152 L612,173 L250,201 L200,187 Z"/><path d="M200,166 L250,180 L612,152 M250,180 L250,201" fill="none"/></g>
<g transform="scale(0.14728)" fill="none" stroke="#2d5f3d" stroke-width="4.2" stroke-linejoin="round" stroke-linecap="round"><path d="M118,82 L262,82 L262,368 L135,368 M118,82 L118,200 M262,82 L294,46 L294,342 L262,368 M118,82 L102,58 L146,12 L214,46 L294,46 M146,12 L186,40 L166,70 L118,82 M102,58 L112,44"/><path d="M340,132 L430,165 L430,258 M340,132 L340,285 M430,165 L545,128 L545,215 M340,132 L318,70 L412,30 L448,100 L430,165 M448,100 L470,28 L562,48 L545,128 M412,30 L470,28 M318,70 L348,62 M562,48 L570,75 L545,128 M448,100 L555,80"/><ellipse cx="85" cy="196" rx="66" ry="11"/><path d="M22,205 L148,205 M32,210 L56,385 Q88,398 124,385 L140,210 M38,256 Q86,268 134,256 M44,302 Q88,314 130,302"/><ellipse cx="234" cy="236" rx="56" ry="10" fill="#f8fafb"/><path d="M180,240 L200,436 Q235,448 270,436 L288,240" fill="#f8fafb"/><path d="M222,232 L222,168 L268,124 M232,234 L232,172 L276,132 L268,124"/><path d="M314,322 L368,254 L478,276 L440,346 Z M314,322 L330,430 L430,458 L440,346 M478,276 L470,380 L430,458 M330,430 L390,350 L440,346 M390,350 L372,392 L430,458 M372,392 L352,420" fill="#f8fafb"/><path d="M494,250 L516,388 Q570,412 626,388 L648,250" fill="#f8fafb"/><ellipse cx="571" cy="236" rx="80" ry="22" fill="#f8fafb"/><path d="M492,240 Q492,262 571,272 Q650,262 650,240"/></g>
<g font-family="'Liberation Sans', Arial, sans-serif" font-weight="bold" text-anchor="middle" opacity="0.999">
<g fill="#0e5f3a" font-size="25" stroke="#0e5f3a" stroke-width="0.6" stroke-linejoin="round">
<text x="321.6" y="221.2" textLength="65.3" lengthAdjust="spacingAndGlyphs">100%</text>
<text x="321.2" y="253.8" textLength="137.4" lengthAdjust="spacingAndGlyphs">RECYCLED</text>
<text x="320.2" y="286.5" textLength="83.1" lengthAdjust="spacingAndGlyphs">PAPER</text>
<text x="321.2" y="319.6" textLength="137.4" lengthAdjust="spacingAndGlyphs">LIFECYCLE</text>
</g>
<g fill="#164a30" font-size="10.2" stroke="#164a30" stroke-width="0.25">
<text x="49.5" y="88.4" textLength="95.0" lengthAdjust="spacingAndGlyphs">FOOD &amp; BEVERAGE</text>
<text x="49.85" y="100.0" textLength="63.6" lengthAdjust="spacingAndGlyphs">CONTAINERS</text>
</g>
<g fill="#ffffff" font-size="11.5" stroke="#ffffff" stroke-width="0.45" stroke-linejoin="round">
<text x="260.9" y="127.6" textLength="52.0" lengthAdjust="spacingAndGlyphs">RECYCLED</text>
<text x="261.4" y="139.7" textLength="32.0" lengthAdjust="spacingAndGlyphs">WASTE</text>
<text x="161.5" y="221.1" textLength="79.4" lengthAdjust="spacingAndGlyphs">HOME &amp; OFFICE</text>
<text x="161.4" y="233.0" textLength="47.2" lengthAdjust="spacingAndGlyphs">PRINTING</text>
<text x="153.1" y="367.0" textLength="34.0" lengthAdjust="spacingAndGlyphs">REAMS</text>
<text x="244.3" y="454.8" textLength="59.0" lengthAdjust="spacingAndGlyphs">SHEETING &amp;</text>
<text x="244.95" y="467" textLength="55.8" lengthAdjust="spacingAndGlyphs">WRAPPING</text>
<text x="388.9" y="457.6" textLength="74" lengthAdjust="spacingAndGlyphs">PAPERMAKING</text>
<text x="481.9" y="374.2" font-size="10.7" textLength="59.4" lengthAdjust="spacingAndGlyphs">PAPER PULP</text>
<text x="495.7" y="234.9" textLength="63.0" lengthAdjust="spacingAndGlyphs">CLEANING &amp;</text>
<text x="495.9" y="246.6" textLength="62.8" lengthAdjust="spacingAndGlyphs">SEPARATION</text>
<text x="386.9" y="135.3" font-size="10.9" textLength="56.4" lengthAdjust="spacingAndGlyphs" fill="#f0faf0" stroke="#f0faf0">PAPER MILL</text>
<text x="620.6" y="227.1" textLength="55.2" lengthAdjust="spacingAndGlyphs">POLY LAYER</text>
</g>
<g fill="#ffffff" font-size="9.4" stroke="#ffffff" stroke-width="0.4" stroke-linejoin="round">
<text x="624" y="333.8" textLength="50" lengthAdjust="spacingAndGlyphs">NON-WOOD</text>
<text x="624.3" y="343.8" textLength="38.8" lengthAdjust="spacingAndGlyphs">DECKING</text>
</g>
</g>

</svg>
</body>
</html>
